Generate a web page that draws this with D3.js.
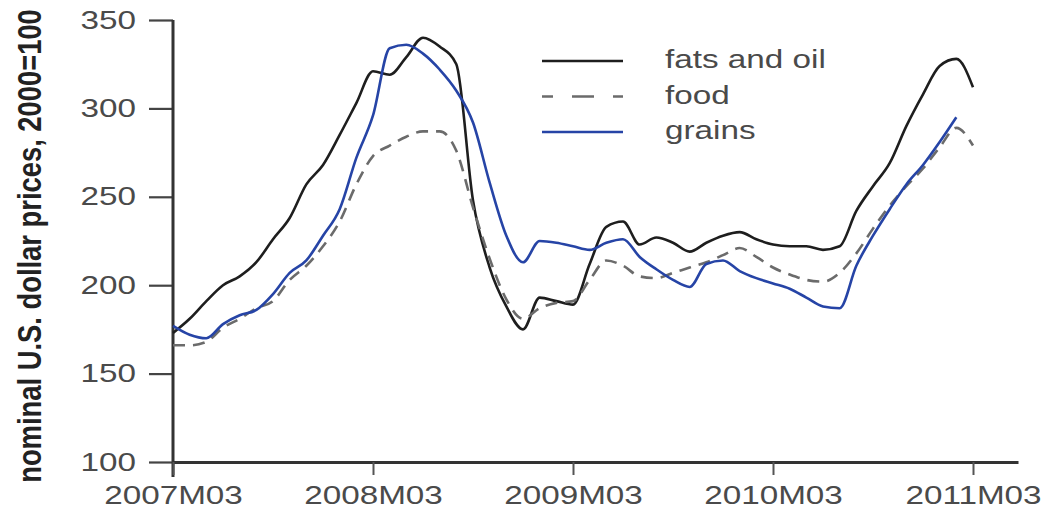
<!DOCTYPE html>
<html>
<head>
<meta charset="utf-8">
<script src="https://cdn.jsdelivr.net/npm/d3@7"></script>
<style>
  body { margin: 0; background: #fff; }
  svg { display: block; }
</style>
</head>
<body>
<svg id="chart" width="1053" height="512"></svg>
<script>
// x tick labels (month index since 2007M03)
var tickMonths = [0, 12, 24, 36, 48];
var tickLabels = ["2007M03", "2008M03", "2009M03", "2010M03", "2011M03"];
var yTicks = [100, 150, 200, 250, 300, 350];

var seriesNames = ["fats and oil", "food", "grains"];

// monthly index values, 2000=100, starting 2007M03
var fats = [173, 181, 191, 200, 205, 213, 226, 238, 257, 268, 285, 303,
            321, 319, 329, 340, 335, 325, 248, 210, 188, 175, 193, 191,
            189, 212, 233, 236, 223, 227, 224, 219, 224, 228, 230, 226,
            223, 222, 222, 220, 222, 242, 256, 269, 290, 308, 324, 328, 312];
var food = [166, 166, 168, 176, 181, 187, 191, 203, 211, 222, 236, 257,
            273, 279, 284, 287, 287, 276, 244, 215, 192, 181, 187, 190,
            191, 203, 214, 211, 205, 204, 207, 210, 213, 217, 221, 216,
            210, 206, 203, 202, 207, 218, 232, 245, 256, 266, 278, 289, 279];
var grains = [177, 172, 170, 178, 183, 186, 195, 207, 214, 228, 243, 272,
              296, 334, 336, 331, 322, 310, 292, 258, 228, 213, 225, 224,
              222, 220, 224, 226, 216, 209, 203, 199, 212, 214, 208, 204,
              201, 198, 193, 188, 187, 211, 228, 243, 257, 268, 281, 295];

var svg = d3.select("#chart");

var x = d3.scaleLinear().domain([0, 50.7]).range([173, 1018]);
var y = d3.scaleLinear().domain([100, 350]).range([462, 20]);

var stretch = 1.33;
function widen(sel) {
    sel.each(function() {
        var w = this.getComputedTextLength();
        d3.select(this).attr("textLength", w * stretch).attr("lengthAdjust", "spacingAndGlyphs");
    });
}

// y axis
var yAxis = svg.append("g")
    .attr("transform", "translate(" + x(0) + ",0)")
    .call(d3.axisLeft(y).tickValues(yTicks).tickSize(24).tickPadding(13).tickFormat(d3.format("d")));
yAxis.select(".domain").remove();
yAxis.selectAll(".tick line").attr("stroke", "#444").attr("stroke-width", 2.2);
yAxis.selectAll(".tick text")
    .attr("fill", "#4a4a4a")
    .style("font-family", "'Liberation Sans', Arial, sans-serif")
    .style("font-size", "25px")
    .call(widen);

svg.append("line")
    .attr("x1", x(0)).attr("x2", x(0))
    .attr("y1", y(350)).attr("y2", y(100) + 15)
    .attr("stroke", "#333").attr("stroke-width", 3);

// x axis
var xAxis = svg.append("g")
    .attr("transform", "translate(0," + y(100) + ")")
    .call(d3.axisBottom(x).tickValues(tickMonths).tickSize(13).tickSizeOuter(0).tickPadding(11)
        .tickFormat(function(d, i) { return tickLabels[i]; }));
xAxis.select(".domain").attr("stroke", "#333").attr("stroke-width", 3);
xAxis.selectAll(".tick line").attr("stroke", "#555").attr("stroke-width", 2);
xAxis.selectAll(".tick text")
    .attr("fill", "#4a4a4a")
    .style("font-family", "'Liberation Sans', Arial, sans-serif")
    .style("font-size", "25px")
    .call(widen);

// y label, squeezed along its length with a scale so its box stays true
var yLabel = svg.append("text")
    .attr("text-anchor", "middle")
    .attr("fill", "#222")
    .style("font-family", "'Liberation Sans Narrow', 'Arial Narrow', sans-serif")
    .style("font-weight", "bold")
    .style("font-size", "33px")
    .text("nominal U.S. dollar prices, 2000=100");
var labelW = yLabel.node().getComputedTextLength();
yLabel.attr("transform", "translate(41,246) rotate(-90) scale(" + (474 / labelW) + ",1)");

var line = d3.line()
    .x(function(d, i) { return x(i); })
    .y(function(d) { return y(d); })
    .curve(d3.curveMonotoneX);

var styles = [
    { data: fats, color: "#1e1e1e", dash: null },
    { data: food, color: "#6b6b6b", dash: "12,8" },
    { data: grains, color: "#2644a6", dash: null }
];

svg.selectAll("path.series")
    .data(styles)
    .enter()
    .append("path")
        .attr("class", "series")
        .attr("fill", "none")
        .attr("stroke", function(d) { return d.color; })
        .attr("stroke-width", 2.6)
        .attr("stroke-dasharray", function(d) { return d.dash; })
        .attr("d", function(d) { return line(d.data); });

// legend
var legend = svg.selectAll("g.legend")
    .data(styles)
    .enter()
    .append("g")
        .attr("class", "legend")
        .attr("transform", function(d, i) { return "translate(542," + (61 + i * 35.5) + ")"; });

legend.append("line")
    .attr("x1", 0).attr("x2", 81)
    .attr("stroke", function(d) { return d.color; })
    .attr("stroke-width", 2.6)
    .attr("stroke-dasharray", function(d) { return d.dash ? "22,19" : null; })
    .attr("stroke-dashoffset", 11);

legend.append("text")
    .attr("x", 123)
    .attr("y", 7)
    .attr("fill", "#4a4a4a")
    .style("font-family", "'Liberation Sans', Arial, sans-serif")
    .style("font-size", "25px")
    .text(function(d, i) { return seriesNames[i]; })
    .call(widen);
</script>
</body>
</html>
